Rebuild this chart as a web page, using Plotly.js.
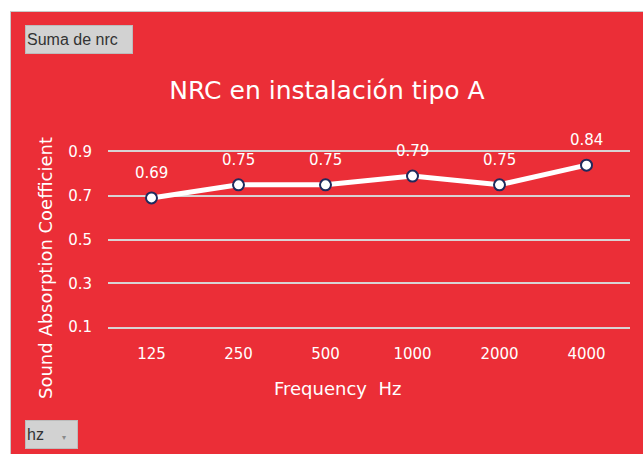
<!DOCTYPE html>
<html>
<head>
<meta charset="utf-8">
<script src="https://cdn.plot.ly/plotly-3.0.1.min.js"></script>
<style>
html,body{margin:0;padding:0;background:#ffffff;width:643px;height:454px;overflow:hidden;}
#chart{position:absolute;left:10px;top:11px;width:632px;height:442px;border-left:1px solid #c9c9c9;border-top:1px solid #c9c9c9;}
</style>
</head>
<body>
<div id="chart"></div>
<script>
const frequencies = ['125', '250', '500', '1000', '2000', '4000'];
const nrcValues = [0.69, 0.75, 0.75, 0.79, 0.75, 0.84];
const valueLabels = ['0.69', '0.75', '0.75', '0.79', '0.75', '0.84'];
const yTicks = [0.1, 0.3, 0.5, 0.7, 0.9];
const yTickLabels = ['0.1', '0.3', '0.5', '0.7', '0.9'];

const RED = '#EB2E37';
const FONT = 'DejaVu Sans, sans-serif';
const GRID = '#d8d3d3';

const trace = {
  type: 'scatter',
  mode: 'lines+markers',
  x: frequencies,
  y: nrcValues,
  line: {color: '#ffffff', width: 5},
  marker: {size: 11, color: '#ffffff', line: {color: '#1f2a5c', width: 2}},
  hoverinfo: 'x+y',
  cliponaxis: false
};

// category axes place annotations by category index
const annotations = frequencies.map((f, i) => ({
  x: i, y: nrcValues[i], xref: 'x', yref: 'y',
  text: valueLabels[i], showarrow: false, yshift: 25,
  font: {family: FONT, size: 15, color: '#ffffff'}
}));

annotations.push({
  xref: 'paper', yref: 'paper', x: -0.1207, y: 0.337,
  xanchor: 'center', yanchor: 'middle',
  text: 'Sound Absorption Coefficient', textangle: -90, showarrow: false,
  font: {family: FONT, size: 18, color: '#ffffff'}
});
annotations.push({
  xref: 'paper', yref: 'paper', x: 0.4406, y: -0.3486,
  xanchor: 'center', yanchor: 'middle',
  text: 'Frequency  Hz', showarrow: false,
  font: {family: FONT, size: 18, color: '#ffffff'}
});
annotations.push({
  xref: 'paper', yref: 'paper', x: -0.159, y: 1.7257, xanchor: 'left', yanchor: 'top',
  text: 'Suma de nrc', showarrow: false, align: 'left',
  width: 104, height: 25, borderpad: 1,
  bgcolor: '#d2d2d2', bordercolor: '#bcbcbc', borderwidth: 1,
  font: {family: 'Liberation Sans, Arial, sans-serif', size: 16, color: '#333333'}
});
annotations.push({
  xref: 'paper', yref: 'paper', x: -0.159, y: -0.5314, xanchor: 'left', yanchor: 'top',
  text: 'hz&nbsp;&nbsp;&nbsp;&nbsp;<span style="font-size:8px;fill:#8a8a8a;">▾</span>',
  showarrow: false, align: 'left',
  width: 49, height: 25, borderpad: 1,
  bgcolor: '#d2d2d2', bordercolor: '#bcbcbc', borderwidth: 1,
  font: {family: 'Liberation Sans, Arial, sans-serif', size: 16, color: '#333333'}
});

const layout = {
  width: 632, height: 442,
  margin: {l: 97, r: 13, t: 140, b: 127, pad: 0},
  paper_bgcolor: RED,
  plot_bgcolor: 'rgba(0,0,0,0)',
  showlegend: false,
  title: {
    text: 'NRC en instalación tipo A',
    x: 0.4195, xref: 'paper', xanchor: 'center',
    y: 0.8235, yref: 'container', yanchor: 'middle',
    font: {family: FONT, size: 25, color: '#ffffff'}
  },
  xaxis: {
    type: 'category',
    range: [-0.5, 5.5], autorange: false,
    showgrid: false, zeroline: false,
    showline: true, linecolor: GRID, linewidth: 2, mirror: true,
    ticks: '', ticklabelstandoff: 12,
    tickfont: {family: FONT, size: 15, color: '#ffffff'},
    fixedrange: true
  },
  yaxis: {
    range: [0.1, 0.9], autorange: false,
    tickvals: yTicks, ticktext: yTickLabels,
    showgrid: true, gridcolor: GRID, gridwidth: 2,
    zeroline: false, showline: false,
    ticks: '', ticklabelstandoff: 15,
    tickfont: {family: FONT, size: 15, color: '#ffffff'},
    fixedrange: true
  },
  annotations: annotations
};

Plotly.newPlot('chart', [trace], layout, {displayModeBar: false, staticPlot: true});
</script>
</body>
</html>
